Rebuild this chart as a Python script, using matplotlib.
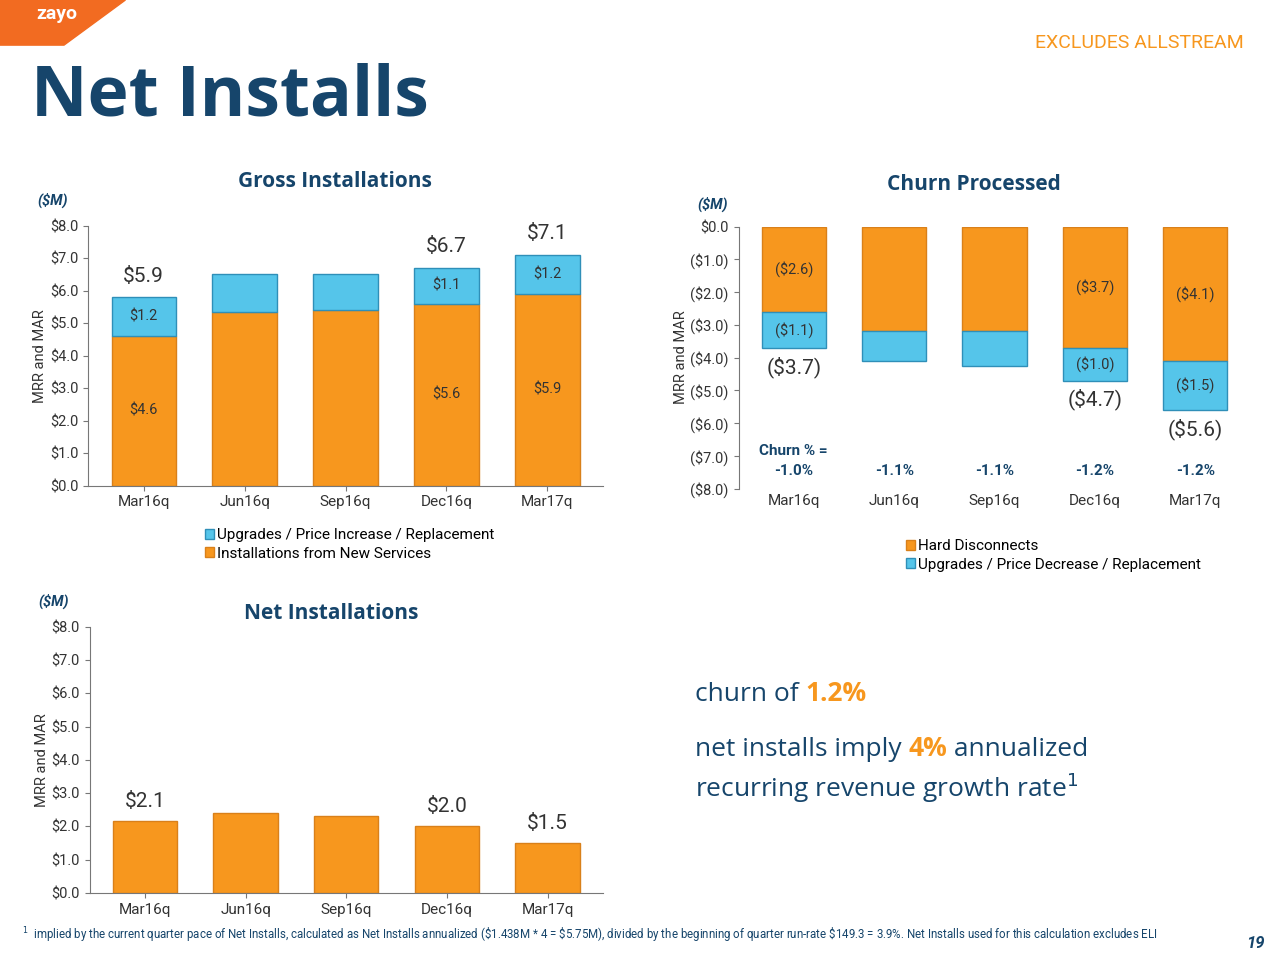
import matplotlib
matplotlib.use("Agg")
import matplotlib.pyplot as plt
from matplotlib.patches import Polygon

quarters = ["Mar16q", "Jun16q", "Sep16q", "Dec16q", "Mar17q"]
gross_new = [4.6, 5.35, 5.4, 5.6, 5.9]
gross_upg = [1.2, 1.15, 1.1, 1.1, 1.2]
gross_tot_labels = ["$5.9", None, None, "$6.7", "$7.1"]
churn_hard = [-2.6, -3.2, -3.2, -3.7, -4.1]
churn_upg = [-1.1, -0.9, -1.05, -1.0, -1.5]
churn_pct = ["-1.0%", "-1.1%", "-1.1%", "-1.2%", "-1.2%"]
net_vals = [2.15, 2.4, 2.3, 2.0, 1.5]
net_labels = ["$2.1", None, None, "$2.0", "$1.5"]

ORANGE = "#F7971E"; OEDGE = "#D9801A"
BLUE = "#55C5EA"; BEDGE = "#2F8FB8"
NAVY = "#16456B"; TXT = "#333333"
plt.rcParams['font.family'] = ['Roboto', 'DejaVu Sans']
OS = ["Open Sans", "DejaVu Sans"]

fig = plt.figure(figsize=(12.8, 9.6), dpi=100)
fig.patches.append(Polygon([[0, 1], [0.098, 1], [0.05, 0.953], [0, 0.953]], closed=True,
                           transform=fig.transFigure, color="#F26B21", zorder=0))
fig.text(0.028, 0.985, "zayo", color="white", fontsize=14, fontweight="bold", va="center")
fig.text(0.972, 0.955, "EXCLUDES ALLSTREAM", color=ORANGE, fontsize=14, ha="right", va="center")
fig.text(0.024, 0.898, "Net Installs", color=NAVY, fontsize=50, fontweight="bold", va="center", family=OS)

def money(v):
    return f"(${abs(v):.1f})" if v < 0 else f"${v:.1f}"

def style(ax, ylim, ticks):
    ax.set_ylim(*ylim); ax.set_yticks(ticks)
    ax.set_yticklabels([money(t) for t in ticks], fontsize=10.5, color=TXT)
    ax.set_xlim(-0.55, 4.55)
    ax.set_xticks(range(5)); ax.set_xticklabels(quarters, fontsize=11, color=TXT)
    for s in ["top", "right"]:
        ax.spines[s].set_visible(False)
    ax.spines["left"].set_color("#777"); ax.spines["bottom"].set_color("#777")
    ax.tick_params(colors="#777", labelcolor=TXT)

x = range(5); w = 0.64
ax1 = fig.add_axes([0.069, 0.494, 0.402, 0.271])
b1 = ax1.bar(x, gross_new, w, color=ORANGE, edgecolor=OEDGE, label="Installations from New Services")
b2 = ax1.bar(x, gross_upg, w, bottom=gross_new, color=BLUE, edgecolor=BEDGE,
             label="Upgrades / Price Increase / Replacement")
style(ax1, (0, 8), [0, 1, 2, 3, 4, 5, 6, 7, 8])
for i in [0, 3, 4]:
    ax1.text(i, gross_new[i] * 0.5, money(gross_new[i]), ha="center", va="center", fontsize=10.5, color=TXT)
    ax1.text(i, gross_new[i] + gross_upg[i] / 2, money(gross_upg[i]), ha="center", va="center",
             fontsize=10.5, color=TXT)
    tot = gross_new[i] + gross_upg[i]
    ax1.text(i, tot + 0.35, gross_tot_labels[i], ha="center", va="bottom", fontsize=15, color=TXT)
ax1.set_ylabel("MRR and MAR", fontsize=10.5, color=TXT, labelpad=2)
ax1.text(-0.1, 1.08, "($M)", transform=ax1.transAxes, fontsize=10.5, fontweight="bold",
         fontstyle="italic", color=NAVY)
ax1.text(0.48, 1.17, "Gross Installations", transform=ax1.transAxes, ha="center", va="center",
         fontsize=15, fontweight="bold", color=NAVY, family=OS)
ax1.legend(handles=[b2, b1], loc="upper left", bbox_to_anchor=(0.2, -0.11), frameon=False,
           fontsize=11, handlelength=0.6, handleheight=0.6, handletextpad=0.2, labelspacing=0.3)

ax2 = fig.add_axes([0.577, 0.491, 0.4, 0.273])
c1 = ax2.bar(x, churn_hard, w, color=ORANGE, edgecolor=OEDGE, label="Hard Disconnects")
c2 = ax2.bar(x, churn_upg, w, bottom=churn_hard, color=BLUE, edgecolor=BEDGE,
             label="Upgrades / Price Decrease / Replacement")
style(ax2, (-8, 0), [0, -1, -2, -3, -4, -5, -6, -7, -8])
for i in [0, 3, 4]:
    ax2.text(i, churn_hard[i] / 2, money(churn_hard[i]), ha="center", va="center", fontsize=10.5, color=TXT)
    ax2.text(i, churn_hard[i] + churn_upg[i] / 2, money(churn_upg[i]), ha="center", va="center",
             fontsize=10.5, color=TXT)
    tot = churn_hard[i] + churn_upg[i]
    ax2.text(i, tot - 0.25, money(tot), ha="center", va="top", fontsize=15, color=TXT)
for i in range(5):
    ax2.text(i, -7.45, churn_pct[i], ha="center", va="center", fontsize=11, fontweight="bold", color=NAVY)
ax2.text(-0.35, -6.85, "Churn % =", ha="left", va="center", fontsize=11, fontweight="bold", color=NAVY)
ax2.spines["bottom"].set_visible(False)
ax2.tick_params(axis="x", length=0)
ax2.set_ylabel("MRR and MAR", fontsize=10.5, color=TXT, labelpad=2)
ax2.text(-0.08, 1.07, "($M)", transform=ax2.transAxes, fontsize=10.5, fontweight="bold",
         fontstyle="italic", color=NAVY)
ax2.text(0.46, 1.16, "Churn Processed", transform=ax2.transAxes, ha="center", va="center",
         fontsize=15, fontweight="bold", color=NAVY, family=OS)
ax2.legend(handles=[c1, c2], loc="upper left", bbox_to_anchor=(0.3, -0.14), frameon=False,
           fontsize=11, handlelength=0.6, handleheight=0.6, handletextpad=0.2, labelspacing=0.3)

ax3 = fig.add_axes([0.070, 0.070, 0.401, 0.277])
ax3.bar(x, net_vals, w, color=ORANGE, edgecolor=OEDGE)
style(ax3, (0, 8), [0, 1, 2, 3, 4, 5, 6, 7, 8])
for i in [0, 3, 4]:
    ax3.text(i, net_vals[i] + 0.3, net_labels[i], ha="center", va="bottom", fontsize=15, color=TXT)
ax3.set_ylabel("MRR and MAR", fontsize=10.5, color=TXT, labelpad=2)
ax3.text(-0.1, 1.08, "($M)", transform=ax3.transAxes, fontsize=10.5, fontweight="bold",
         fontstyle="italic", color=NAVY)
ax3.text(0.47, 1.05, "Net Installations", transform=ax3.transAxes, ha="center", va="center",
         fontsize=15, fontweight="bold", color=NAVY, family=OS)

fs = 19
fig.canvas.draw()
r = fig.canvas.get_renderer()
def line(y, pieces):
    xpx = 0.543 * 1280
    for s, c, wt in pieces:
        t = fig.text(xpx / 1280, y, s, fontsize=fs, color=c, fontweight=wt, family=OS)
        xpx += t.get_window_extent(r).width
line(0.27, [("churn of ", NAVY, "normal"), ("1.2%", ORANGE, "bold")])
line(0.212, [("net installs imply ", NAVY, "normal"), ("4%", ORANGE, "bold"), (" annualized", NAVY, "normal")])
fig.text(0.543, 0.17, "recurring revenue growth rate$^1$", fontsize=fs, color=NAVY, family=OS)
fig.text(0.017, 0.022, "$^1$  implied by the current quarter pace of Net Installs, calculated as Net Installs annualized "
         "(\\$1.438M * 4 = \\$5.75M), divided by the beginning of quarter run-rate \\$149.3 = 3.9%. Net Installs used for this calculation excludes ELI",
         fontsize=8.3, color=NAVY)
fig.text(0.988, 0.012, "19", fontsize=12, color=NAVY, fontweight="bold", fontstyle="italic", ha="right")
fig.savefig("out.png", dpi=100, facecolor="white")
